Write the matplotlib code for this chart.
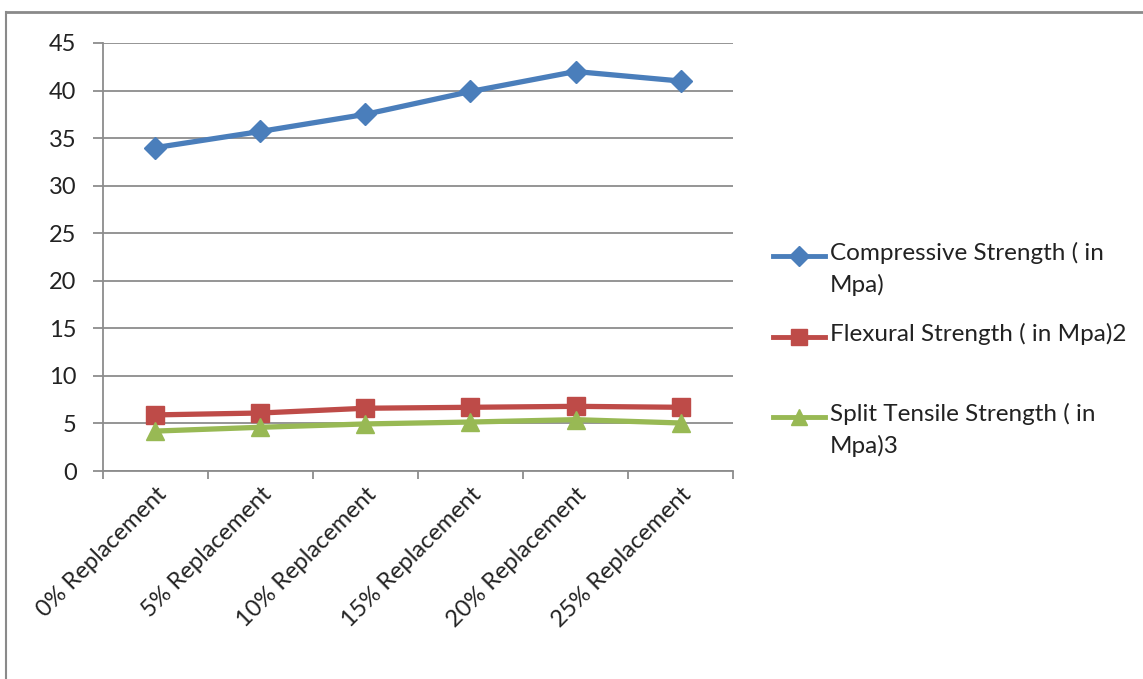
import matplotlib.pyplot as plt
from matplotlib.lines import Line2D
import numpy as np

plt.rcParams['font.family'] = ['Lato', 'DejaVu Sans']

categories = ['0% Replacement', '5% Replacement', '10% Replacement',
              '15% Replacement', '20% Replacement', '25% Replacement']
compressive = [34.0, 35.7, 37.5, 39.9, 42.0, 41.0]
flexural = [5.9, 6.1, 6.6, 6.7, 6.8, 6.7]
split_tensile = [4.2, 4.6, 4.95, 5.15, 5.4, 5.05]

labels = ['Compressive Strength ( in\nMpa)',
          'Flexural Strength ( in Mpa)2',
          'Split Tensile Strength ( in\nMpa)3']
colors = ['#4A7EBB', '#BE4B48', '#98B954']
markers = ['D', 's', '^']
msizes = [11, 13, 13]
series = [compressive, flexural, split_tensile]

fig = plt.figure(figsize=(11.43, 6.79), dpi=100)
ax = fig.add_axes([0.0901, 0.3063, 0.5512, 0.6304])

x = np.arange(len(categories))
for vals, c, m, ms in zip(series, colors, markers, msizes):
    ax.plot(x, vals, color=c, lw=3.8, marker=m, ms=ms, mec=c, mfc=c, zorder=3)

ax.set_xlim(-0.5, len(categories) - 0.5)
ax.set_ylim(0, 45)
ax.set_yticks(np.arange(0, 46, 5))
ax.yaxis.grid(True, color='#8c8c8c', lw=1.3)
ax.set_axisbelow(True)

for side in ['top', 'right']:
    ax.spines[side].set_visible(False)
for side in ['left', 'bottom']:
    ax.spines[side].set_color('#8c8c8c')
    ax.spines[side].set_linewidth(1.3)

# category ticks sit between the points
ax.set_xticks(np.arange(-0.5, len(categories) + 0.5, 1.0))
ax.set_xticklabels([])
ax.set_xticks(x, minor=True)
ax.set_xticklabels(categories, minor=True, rotation=45, ha='right',
                   rotation_mode='anchor', fontsize=17, color='#222222')
ax.tick_params(axis='x', which='minor', length=0, pad=9)
ax.tick_params(axis='x', which='major', length=6, color='#8c8c8c', width=1.3)
ax.tick_params(axis='y', length=7, color='#8c8c8c', width=1.3,
               labelsize=17, labelcolor='#222222', pad=12)

# legend drawn by hand to the right of the plot
leg_y = [0.629, 0.510, 0.392]
for yy, c, m, ms, lab in zip(leg_y, colors, markers, msizes, labels):
    yy -= 0.006
    fig.add_artist(Line2D([0.676, 0.722], [yy, yy], color=c, lw=3.5,
                          transform=fig.transFigure))
    fig.add_artist(Line2D([0.699], [yy], color=c, marker=m, ms=ms - 1,
                          mec=c, mfc=c, transform=fig.transFigure))
    fig.text(0.726, yy + 0.021, lab, fontsize=17.5, color='#222222',
             va='top', ha='left', linespacing=1.55)

# outer frame on top and left edges
fig.add_artist(Line2D([0.005, 1.0], [0.982, 0.982], color='#8a8a8a', lw=2,
                      transform=fig.transFigure))
fig.add_artist(Line2D([0.005, 0.005], [0.0, 0.982], color='#8a8a8a', lw=1.5,
                      transform=fig.transFigure))

fig.savefig('out.png', dpi=100)
